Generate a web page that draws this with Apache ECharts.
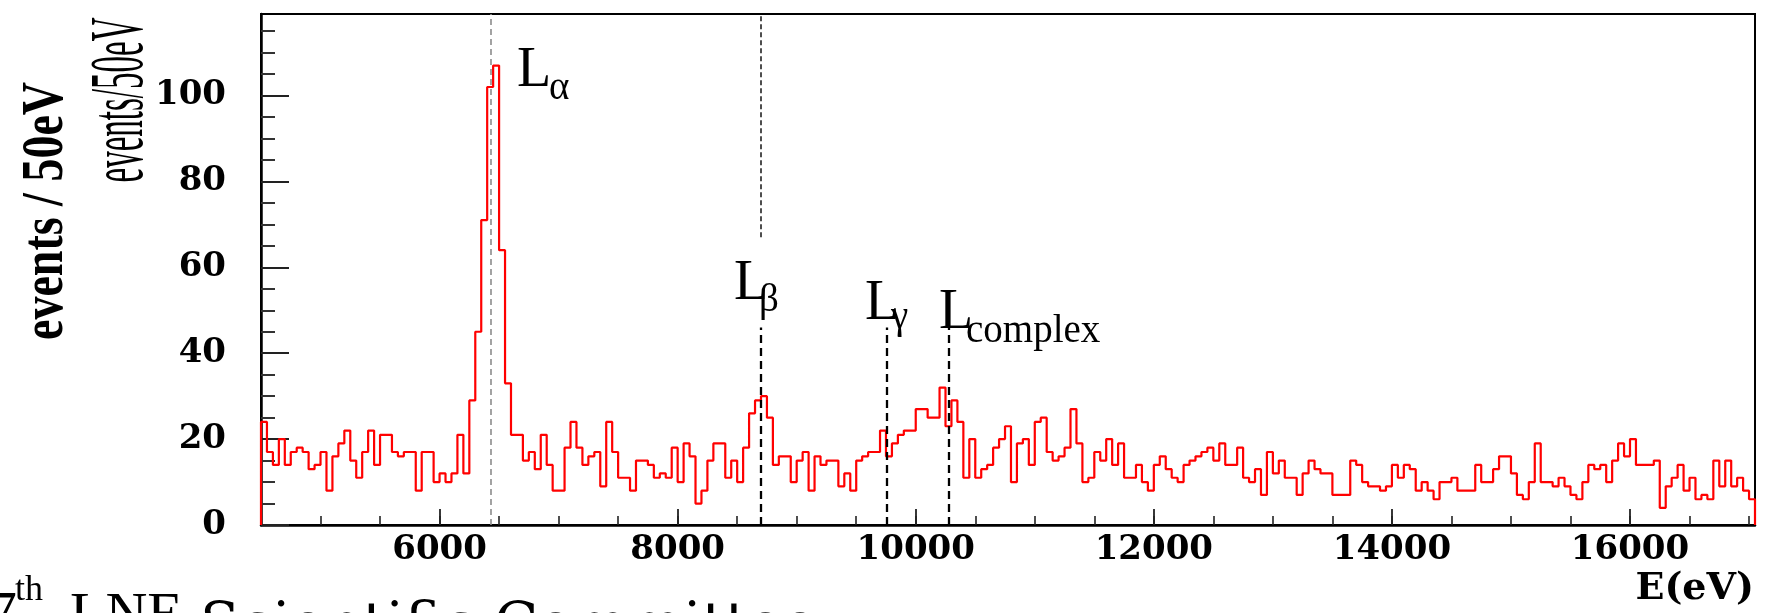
<!DOCTYPE html>
<html>
<head>
<meta charset="utf-8">
<script src="https://cdn.jsdelivr.net/npm/echarts@6/dist/echarts.min.js"></script>
<style>
  html, body { margin: 0; padding: 0; background: #fff; }
  #chart { width: 1775px; height: 613px; }
</style>
</head>
<body>
<div id="chart"></div>
<script>
// spectrum, 50 eV bins starting at 4500 eV
const binStart = 4500
const binWidth = 50
const counts = [
  24, 17, 14, 20, 14, 17, 18, 17, 13, 14, 17, 8, 16, 19, 22, 15, 11, 17, 22, 14,
  21, 21, 17, 16, 17, 17, 8, 17, 17, 10, 12, 10, 12, 21, 12, 29, 45, 71, 102, 107,
  64, 33, 21, 21, 15, 17, 13, 21, 14, 8, 8, 18, 24, 18, 14, 16, 17, 9, 24, 17,
  11, 11, 8, 15, 15, 14, 11, 12, 11, 18, 10, 19, 16, 5, 8, 15, 19, 19, 11, 15,
  10, 18, 26, 29, 30, 25, 14, 16, 16, 10, 15, 17, 8, 16, 14, 15, 15, 9, 12, 8,
  15, 16, 17, 17, 22, 16, 19, 21, 22, 22, 27, 27, 25, 25, 32, 23, 29, 24, 11, 20,
  11, 13, 14, 18, 20, 23, 10, 19, 20, 14, 24, 25, 17, 15, 16, 18, 27, 19, 10, 11,
  17, 15, 20, 14, 19, 11, 11, 14, 10, 8, 14, 16, 13, 11, 10, 14, 15, 16, 17, 18,
  15, 19, 14, 14, 18, 11, 10, 13, 7, 17, 12, 15, 11, 11, 7, 12, 15, 13, 12, 12,
  7, 7, 7, 15, 14, 10, 9, 9, 8, 9, 14, 11, 14, 13, 8, 10, 8, 6, 10, 10,
  11, 8, 8, 8, 14, 10, 10, 13, 16, 16, 12, 7, 6, 10, 19, 10, 10, 9, 11, 9,
  7, 6, 10, 14, 13, 14, 10, 15, 19, 16, 20, 14, 14, 14, 15, 4, 9, 11, 14, 8,
  11, 6, 7, 6, 15, 9, 15, 9, 11, 8, 6
]

// axis range and tick labels
const xMin = 4500
const xMax = 17050
const yMax = 119
const xLabelValues = [6000, 8000, 10000, 12000, 14000, 16000]
const yLabelValues = [0, 20, 40, 60, 80, 100]

// line markers (eV) and the vertical extent of each dashed segment (counts)
const lineNames = ['α', 'β', 'γ', 'complex']
const lineEnergies = [6430, 8700, 9755, 10275]
const lineSpans = [[[0, 119]], [[67, 119], [0, 46]], [[0, 46]], [[0, 46]]]

// minor ticks every 500 eV / 5 counts
let xMinorTicks = []
for (let e = 5000; e <= 17000; e += 500) xMinorTicks.push(e)
let yMinorTicks = []
for (let v = 5; v < yMax; v += 5) {
  if (v % 20 !== 0) yMinorTicks.push(v)
}

let points = [[binStart, 0]]
counts.forEach((c, i) => points.push([binStart + i * binWidth, c]))
points.push([binStart + counts.length * binWidth, 0])

let markData = []
lineEnergies.forEach((e, i) => {
  lineSpans[i].forEach(span => {
    let style = { color: '#000', width: 2.3, type: [8, 5] }
    if (i === 0) style = { color: '#8c8c8c', width: 1.6, type: [6, 4] }
    else if (span[1] > 100) style = { color: '#222', width: 1.6, type: [5, 3] } // upper part of L beta
    markData.push([
      { coord: [e, span[0]], lineStyle: style },
      { coord: [e, span[1]] }
    ])
  })
})

const tickFont = {
  fontFamily: 'DejaVu Serif',
  fontWeight: 'bold',
  fontSize: 34,
  color: '#000'
}

let chart = echarts.init(document.getElementById('chart'))

// annotation text (slide labels)
function label(text, x, y, size, family) {
  return {
    type: 'text',
    x: x,
    y: y,
    style: {
      text: text,
      fontFamily: family || 'Liberation Serif',
      fontSize: size,
      fill: '#000',
      align: 'left',
      verticalAlign: 'middle'
    }
  }
}

let graphics = [
  {
    type: 'text',
    x: 47,
    y: 211,
    rotation: Math.PI / 2,
    scaleY: 1.3,
    style: {
      text: 'events / 50eV',
      fontFamily: 'Liberation Serif',
      fontWeight: 'bold',
      fontSize: 46,
      fill: '#000',
      align: 'center',
      verticalAlign: 'middle'
    }
  },
  {
    type: 'text',
    x: 122,
    y: 100,
    rotation: Math.PI / 2,
    scaleY: 2.3,
    style: {
      text: 'events/50eV',
      fontFamily: 'Liberation Serif',
      fontSize: 33,
      fill: '#000',
      align: 'center',
      verticalAlign: 'middle'
    }
  },
  label('L', 517, 71, 56),
  label(lineNames[0], 549, 89, 39),
  label('L', 734, 284, 56),
  label(lineNames[1], 759, 301, 39),
  label('L', 865, 304, 56),
  label(lineNames[2], 891, 318, 39),
  label('L', 939, 313, 56),
  label(lineNames[3], 966, 332, 39),
  // footer, cut by the bottom edge
  label('7', -14, 617, 62),
  label('th', 15, 591, 36),
  label('LNE', 70, 617, 58),
  label('Scientific Committee', 200, 628, 58, 'DejaVu Serif')
]

let option = {
  animation: false,
  backgroundColor: '#fff',
  grid: {
    left: 261,
    right: 20,
    top: 14,
    bottom: 88,
    show: true,
    borderColor: '#000',
    borderWidth: 2,
    containLabel: false,
    outerBoundsMode: 'none'
  },
  xAxis: [{
    type: 'value',
    min: xMin,
    max: xMax,
    position: 'bottom',
    axisLine: { show: true, onZero: false, lineStyle: { color: '#000', width: 2.5 } },
    axisTick: {
      show: true,
      inside: true,
      length: 9,
      customValues: xMinorTicks,
      lineStyle: { color: '#222', width: 1.6 }
    },
    axisLabel: Object.assign({
      customValues: xLabelValues,
      margin: 8,
      formatter: v => String(v)
    }, tickFont),
    splitLine: { show: false },
    name: 'E(eV)',
    nameLocation: 'end',
    nameGap: -1,
    nameTextStyle: {
      fontFamily: 'DejaVu Serif',
      fontWeight: 'bold',
      fontSize: 38,
      color: '#000',
      align: 'right',
      verticalAlign: 'top',
      padding: [45, 0, 0, 0]
    }
  }, {
    type: 'value',
    min: xMin,
    max: xMax,
    position: 'bottom',
    axisLine: { show: false },
    axisTick: {
      show: true,
      inside: true,
      length: 16,
      customValues: xLabelValues,
      lineStyle: { color: '#222', width: 1.8 }
    },
    axisLabel: { show: false },
    splitLine: { show: false }
  }],
  yAxis: [{
    type: 'value',
    min: 0,
    max: yMax,
    position: 'left',
    axisLine: { show: true, onZero: false, lineStyle: { color: '#000', width: 2.5 } },
    axisTick: {
      show: true,
      inside: true,
      length: 28,
      customValues: yLabelValues,
      lineStyle: { color: '#222', width: 2 }
    },
    axisLabel: Object.assign({
      customValues: yLabelValues,
      margin: 35,
      formatter: v => String(v)
    }, tickFont),
    splitLine: { show: false }
  }, {
    type: 'value',
    min: 0,
    max: yMax,
    position: 'left',
    axisLine: { show: false },
    axisTick: {
      show: true,
      inside: true,
      length: 14,
      customValues: yMinorTicks,
      lineStyle: { color: '#333', width: 2 }
    },
    axisLabel: { show: false },
    splitLine: { show: false }
  }],
  series: [{
    type: 'line',
    xAxisIndex: 0,
    yAxisIndex: 0,
    step: 'end',
    data: points,
    showSymbol: false,
    symbol: 'none',
    lineStyle: { color: '#ff0000', width: 2.2 },
    z: 3,
    markLine: {
      silent: true,
      symbol: ['none', 'none'],
      label: { show: false },
      emphasis: { disabled: true },
      data: markData
    }
  }],
  graphic: graphics
}

chart.setOption(option)
</script>
</body>
</html>
